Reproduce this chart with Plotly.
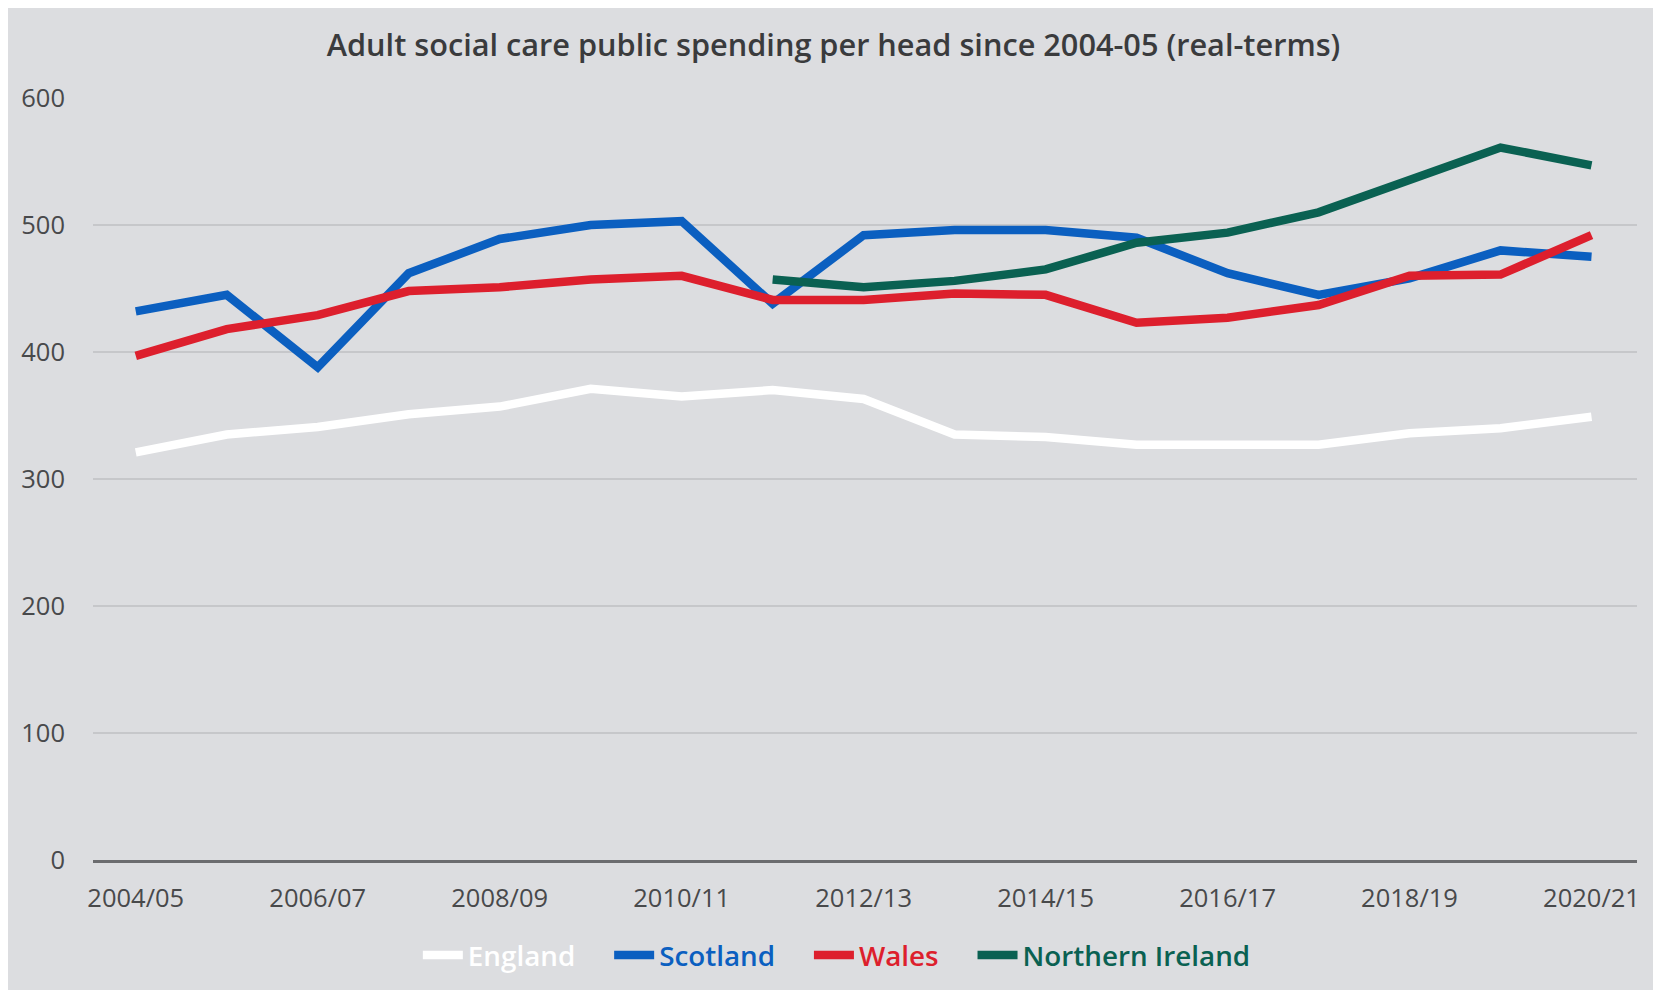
import plotly.graph_objects as go

years = [
    "2004/05", "2005/06", "2006/07", "2007/08", "2008/09", "2009/10",
    "2010/11", "2011/12", "2012/13", "2013/14", "2014/15", "2015/16",
    "2016/17", "2017/18", "2018/19", "2019/20", "2020/21",
]
england = [321, 335, 341, 351, 357, 371, 365, 370, 363, 335, 333, 327, 327, 327, 336, 340, 349]
scotland = [432, 445, 388, 462, 489, 500, 503, 438, 492, 496, 496, 490, 462, 445, 458, 480, 475]
wales = [397, 418, 429, 448, 451, 457, 460, 441, 441, 446, 445, 423, 427, 437, 460, 461, 492]
northern_ireland = [None, None, None, None, None, None, None,
                    457, 451, 456, 465, 486, 494, 510, 535, 561, 547]

tick_years = years[::2]
y_ticks = [0, 100, 200, 300, 400, 500, 600]

series = [
    ("England", england, "#ffffff"),
    ("Scotland", scotland, "#0b5fc0"),
    ("Wales", wales, "#dd1f2d"),
    ("Northern Ireland", northern_ireland, "#0a6152"),
]

BG = "#dcdde0"
TEXT = "#48494b"

fig = go.Figure()
for i, (name, vals, color) in enumerate(series):
    pad = "&nbsp;" * 4 if i < len(series) - 1 else ""
    fig.add_trace(go.Scatter(
        x=years, y=vals, mode="lines",
        name=f"<span style='color:{color}'>{name}</span>{pad}",
        line=dict(color=color, width=8.5),
        connectgaps=False,
    ))

fig.update_layout(
    width=1661, height=990,
    paper_bgcolor=BG, plot_bgcolor=BG,
    font=dict(family="Open Sans", color=TEXT, size=25),
    margin=dict(l=85, r=32, t=90, b=138),
    title=dict(
        text="Adult social care public spending per head since 2004-05 (real-terms)",
        x=0.497, xanchor="center", y=0.962, yanchor="middle",
        font=dict(size=30.7, color="#3a3b3d", weight=600),
    ),
    xaxis=dict(
        type="category", range=[-0.47, 16.5],
        tickvals=tick_years, ticktext=tick_years,
        showgrid=False, showline=True, linecolor="#6b6c6f", linewidth=3,
        ticks="", ticklabelstandoff=13,
        tickfont=dict(size=25.5, color=TEXT),
    ),
    yaxis=dict(
        range=[0, 600], tickvals=y_ticks,
        showgrid=True, gridcolor="#c6c7ca", gridwidth=2,
        zeroline=False, ticks="", ticklabelstandoff=27,
        tickfont=dict(size=25.5, color=TEXT),
    ),
    legend=dict(
        orientation="h", xref="container", yref="container",
        x=0.499, xanchor="center", y=0.043, yanchor="middle",
        font=dict(size=27.8, weight=600), bgcolor="rgba(0,0,0,0)",
        itemwidth=40, traceorder="normal",
    ),
    showlegend=True,
)

fig.write_html("out.html")
